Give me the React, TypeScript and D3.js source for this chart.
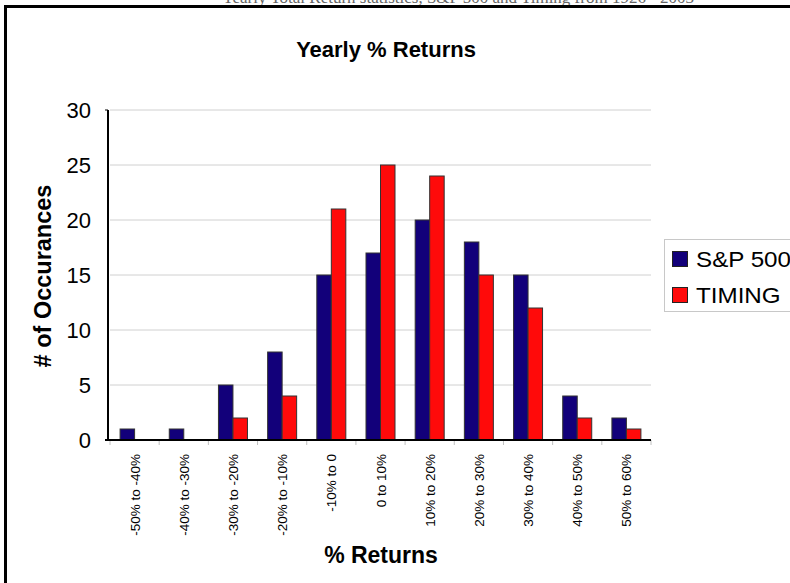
import React from "react";
import * as d3 from "d3";

const categories = ["-50% to -40%", "-40% to -30%", "-30% to -20%", "-20% to -10%", "-10% to 0", "0 to 10%", "10% to 20%", "20% to 30%", "30% to 40%", "40% to 50%", "50% to 60%"];
const sp500 = [1, 1, 5, 8, 15, 17, 20, 18, 15, 4, 2];
const timing = [0, 0, 2, 4, 21, 25, 24, 15, 12, 2, 1];
const seriesNames = ["S&P 500", "TIMING"];
const seriesColors = ["#12007a", "#ff0a0a"];
const yTicks = [0, 5, 10, 15, 20, 25, 30];

export default function App() {
  const W = 790, H = 583;
  const x0 = 110, x1 = 651, yTop = 110, yBot = 440;
  const x = d3.scaleBand<string>().domain(categories).range([x0, x1]);
  const y = d3.scaleLinear().domain([0, 30]).range([yBot, yTop]);
  const bw = 14.5;
  const series = [sp500, timing];
  const font = "Arial, 'Liberation Sans', sans-serif";
  return (
    <svg width={W} height={H} style={{ position: "absolute", left: 0, top: 0, background: "#fff" }}>
      <text x={458} y={3} textAnchor="middle" fontFamily="'Liberation Serif', 'Times New Roman', serif" fontSize={17} fill="#666">
        Yearly Total Return statistics, S&amp;P 500 and Timing from 1926 - 2003
      </text>
      <rect x={0} y={8} width={W} height={H} fill="#fff" />
      <rect x={5.5} y={6.5} width={W + 10} height={H + 10} fill="none" stroke="#000" strokeWidth={3} />
      <text x={386} y={57} textAnchor="middle" fontFamily={font} fontWeight="bold" fontSize={22}>Yearly % Returns</text>
      {yTicks.filter(t => t > 0).map(t => (
        <line key={t} x1={x0} x2={x1} y1={y(t)} y2={y(t)} stroke="#d0d0d0" strokeWidth={1} />
      ))}
      {yTicks.map(t => (
        <text key={t} x={91} y={y(t) + 8} textAnchor="end" fontFamily={font} fontSize={22}>{t}</text>
      ))}
      {categories.map((c, i) => {
        const cx = (x(c) as number) + x.bandwidth() / 2;
        return (
          <g key={c}>
            {series.map((s, k) => s[i] > 0 ? (
              <rect key={k} x={cx - bw + k * bw} y={y(s[i])} width={bw} height={yBot - y(s[i])}
                fill={seriesColors[k]} stroke="#333" strokeWidth={1} />
            ) : null)}
            <text transform={`translate(${cx + 5},454) rotate(-90)`} textAnchor="end" fontFamily={font} fontSize={13.5}>{c}</text>
          </g>
        );
      })}
      {categories.map((c, i) => (
        <line key={"t" + i} x1={x(c) as number} x2={x(c) as number} y1={yBot} y2={yBot + 5} stroke="#c0c0c0" />
      ))}
      <line x1={x1} x2={x1} y1={yBot} y2={yBot + 5} stroke="#c0c0c0" />
      <line x1={x0 - 2} x2={x0 - 2} y1={yTop} y2={yBot + 1} stroke="#000" strokeWidth={2} />
      <line x1={x0 - 5} x2={x1} y1={yBot} y2={yBot} stroke="#000" strokeWidth={2} />
      <line x1={x0 - 5} x2={x0 - 2} y1={yTop} y2={yTop} stroke="#000" strokeWidth={1} />
      <text transform={`translate(51,276) rotate(-90)`} textAnchor="middle" fontFamily={font} fontWeight="bold" fontSize={23.5}># of Occurances</text>
      <text x={381} y={563} textAnchor="middle" fontFamily={font} fontWeight="bold" fontSize={23}>% Returns</text>
      <rect x={664.5} y={239.5} width={140} height={72} fill="#fff" stroke="#c8c8c8" />
      {seriesNames.map((n, k) => (
        <g key={n}>
          <rect x={672.5} y={251.5 + k * 36} width={15} height={15} fill={seriesColors[k]} stroke="#222" />
          <text transform={`translate(696,${267 + k * 36}) scale(1.1,1)`} fontFamily={font} fontSize={22}>{n}</text>
        </g>
      ))}
    </svg>
  );
}
